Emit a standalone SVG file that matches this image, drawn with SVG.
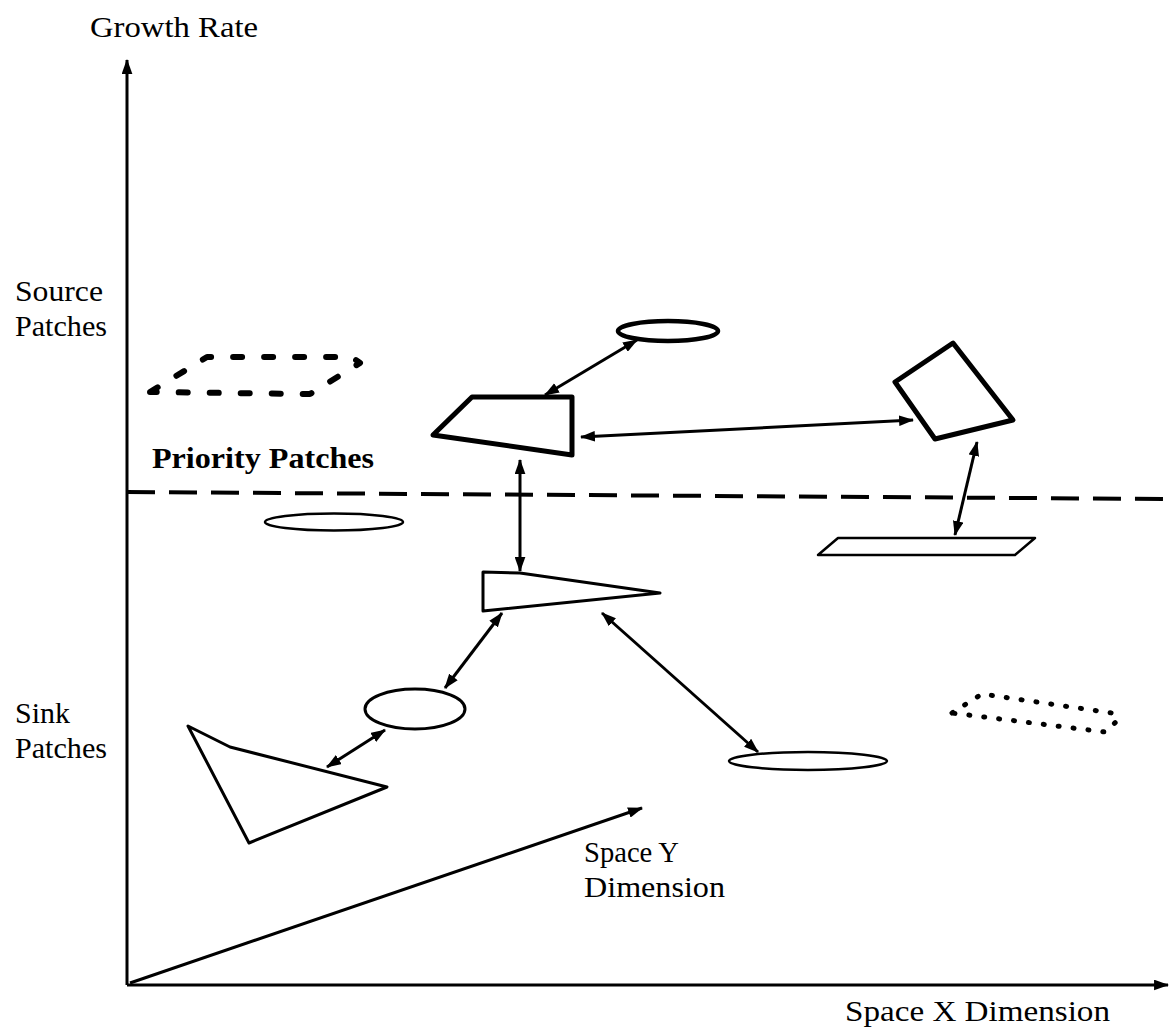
<svg xmlns="http://www.w3.org/2000/svg" width="1171" height="1030" viewBox="0 0 1171 1030">
<defs>
<marker id="ah" viewBox="0 0 14 10" refX="13" refY="5" markerWidth="15" markerHeight="11" markerUnits="userSpaceOnUse" orient="auto-start-reverse">
<path d="M0,0 L14,5 L0,10 Z" fill="#000"/>
</marker>
</defs>
<style>
text{font-family:"Liberation Serif","Times New Roman",serif;font-size:30px;fill:#000}
.b{font-weight:bold}
.shape{fill:none;stroke:#000;stroke-linejoin:round}
.conn{stroke:#000;stroke-width:3;fill:none}
</style>
<rect width="1171" height="1030" fill="#fff"/>
<g id="axes">
<line x1="127" y1="985" x2="127" y2="60" class="conn" marker-end="url(#ah)"/>
<line x1="127" y1="985" x2="1168" y2="985" class="conn" marker-end="url(#ah)"/>
<line x1="130" y1="983" x2="642" y2="808" class="conn" marker-end="url(#ah)"/>
<line x1="127" y1="492" x2="1171" y2="499" stroke="#000" stroke-width="4" stroke-dasharray="28,14"/>
</g>
<g id="labels">
<text x="90" y="37" textLength="168" lengthAdjust="spacingAndGlyphs">Growth Rate</text>
<text x="15" y="301" textLength="88" lengthAdjust="spacingAndGlyphs">Source</text>
<text x="15" y="336" textLength="92" lengthAdjust="spacingAndGlyphs">Patches</text>
<text x="152" y="468" class="b" textLength="222" lengthAdjust="spacingAndGlyphs">Priority Patches</text>
<text x="15" y="723" textLength="55" lengthAdjust="spacingAndGlyphs">Sink</text>
<text x="15" y="758" textLength="92" lengthAdjust="spacingAndGlyphs">Patches</text>
<text x="584" y="862" textLength="95" lengthAdjust="spacingAndGlyphs">Space Y</text>
<text x="584" y="897" textLength="141" lengthAdjust="spacingAndGlyphs">Dimension</text>
<text x="845" y="1021" textLength="265" lengthAdjust="spacingAndGlyphs">Space X Dimension</text>
</g>
<g id="source-dotted-hexagon">
<polygon points="150,392 207,357 352,357 360,363 310,394" class="shape" stroke-width="6" stroke-dasharray="9,22" stroke-linecap="round"/>
</g>
<g id="top-ellipse"><ellipse cx="668" cy="331" rx="50" ry="10" class="shape" stroke-width="4.5"/></g>
<g id="trapezoid"><polygon points="433,435 472,397 572,397 572,455" class="shape" stroke-width="5"/></g>
<g id="tilted-rect"><polygon points="895,382 953,343 1013,420 935,439" class="shape" stroke-width="5"/></g>
<g id="flat-parallelogram"><polygon points="818,555 838,538 1035,538 1015,555" class="shape" stroke-width="2.5"/></g>
<g id="left-ellipse"><ellipse cx="334" cy="522" rx="69" ry="8.5" class="shape" stroke-width="2.5"/></g>
<g id="wedge"><polygon points="483,572 520,573 660,593 483,611" class="shape" stroke-width="3"/></g>
<g id="small-ellipse"><ellipse cx="415" cy="709" rx="50" ry="20" class="shape" stroke-width="3"/></g>
<g id="big-triangle"><polygon points="188,726 230,747 387,787 249,843" class="shape" stroke-width="3"/></g>
<g id="bottom-ellipse"><ellipse cx="808" cy="761" rx="79" ry="9" class="shape" stroke-width="2.5"/></g>
<g id="sink-dotted-shape">
<path d="M952,713 L982,694 L1112,713 L1118,720 L1105,732 Z" class="shape" stroke-width="5" stroke-dasharray="1,14" stroke-linecap="round"/>
</g>
<g id="connectors">
<line x1="545" y1="395" x2="637" y2="340" class="conn" marker-start="url(#ah)" marker-end="url(#ah)"/>
<line x1="581" y1="437" x2="913" y2="420" class="conn" marker-start="url(#ah)" marker-end="url(#ah)"/>
<line x1="977" y1="442" x2="955" y2="535" class="conn" marker-start="url(#ah)" marker-end="url(#ah)"/>
<line x1="520" y1="460" x2="520" y2="571" class="conn" marker-start="url(#ah)" marker-end="url(#ah)"/>
<line x1="502" y1="613" x2="445" y2="688" class="conn" marker-start="url(#ah)" marker-end="url(#ah)"/>
<line x1="602" y1="613" x2="758" y2="752" class="conn" marker-start="url(#ah)" marker-end="url(#ah)"/>
<line x1="385" y1="730" x2="327" y2="767" class="conn" marker-start="url(#ah)" marker-end="url(#ah)"/>
</g>
</svg>
